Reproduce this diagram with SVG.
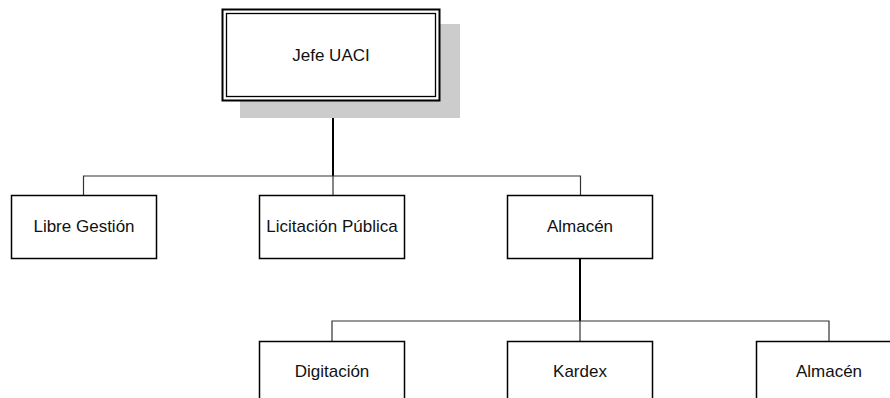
<svg xmlns="http://www.w3.org/2000/svg" width="890" height="398" viewBox="0 0 890 398">
  <style>
    .box { fill: #ffffff; stroke: #000000; stroke-width: 1.5; }
    .label { font-family: "Liberation Sans", Arial, sans-serif; font-size: 17px; fill: #111111; text-anchor: middle; }
    .wire { fill: none; stroke: #333333; stroke-width: 1.2; }
    .trunk { fill: none; stroke: #000000; stroke-width: 2; }
  </style>
  <rect width="890" height="398" fill="#ffffff"/>

  <!-- connectors -->
  <g id="connectors">
    <path class="trunk" d="M333 101 V176"/>
    <path class="wire" d="M333 176 V195"/>
    <path class="wire" d="M83.5 195 V176 H580.5 V195"/>
    <path class="trunk" d="M580 258 V321"/>
    <path class="wire" d="M580 321 V341"/>
    <path class="wire" d="M332 341 V321 H829 V341"/>
  </g>

  <!-- top node with drop shadow and double border -->
  <g id="jefe-uaci">
    <rect x="240" y="24" width="220" height="94" fill="#cccccc"/>
    <rect x="222.5" y="9.5" width="217" height="91" fill="#ffffff" stroke="#000000" stroke-width="2"/>
    <rect x="226.5" y="13.5" width="209" height="83" fill="none" stroke="#000000" stroke-width="1.3"/>
    <text class="label" x="331" y="61">Jefe UACI</text>
  </g>

  <g id="libre-gestion">
    <rect class="box" x="11.5" y="195.5" width="145" height="63"/>
    <text class="label" x="84" y="232">Libre Gestión</text>
  </g>

  <g id="licitacion-publica">
    <rect class="box" x="259.5" y="195.5" width="145" height="63"/>
    <text class="label" x="332" y="232">Licitación Pública</text>
  </g>

  <g id="almacen">
    <rect class="box" x="507.5" y="195.5" width="145" height="63"/>
    <text class="label" x="580" y="232">Almacén</text>
  </g>

  <g id="digitacion">
    <rect class="box" x="259.5" y="341.5" width="145" height="63"/>
    <text class="label" x="332" y="377">Digitación</text>
  </g>

  <g id="kardex">
    <rect class="box" x="507.5" y="341.5" width="145" height="63"/>
    <text class="label" x="580" y="377">Kardex</text>
  </g>

  <g id="almacen-2">
    <rect class="box" x="756.5" y="341.5" width="145" height="63"/>
    <text class="label" x="829" y="377">Almacén</text>
  </g>
</svg>
